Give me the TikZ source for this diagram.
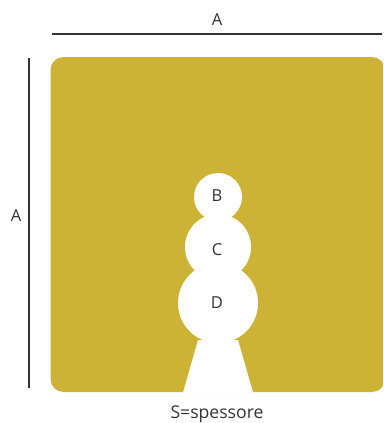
\documentclass[tikz,border=0pt]{standalone}
\usepackage{fontspec}
\setmainfont{Open Sans}
\definecolor{mustard}{HTML}{CDB335}
\definecolor{ink}{HTML}{333333}
\tikzset{
  dimline/.style={draw=ink,line width=1.6pt},
  lbl/.style={text=ink,font=\fontsize{16.5}{18}\selectfont,inner sep=0pt},
  caplbl/.style={text=ink,font=\fontsize{17.6}{19}\selectfont,inner sep=0pt},
  hole/.style={fill=white,draw=none}
}
\begin{document}
\begin{tikzpicture}[x=1pt,y=-1pt]
\useasboundingbox (0,0) rectangle (383,423);
\fill[mustard,rounded corners=13pt] (50.5,57) rectangle (385,392);
\fill[white] (383,40) rectangle (390,400);
\fill[hole] (218,197) circle (24);
\fill[hole] (218,247) circle (33);
\fill[hole] (218,303) circle (40);
\fill[hole] (198,340) -- (238,340) -- (253,392.5) -- (183,392.5) -- cycle;
\coordinate (tl) at (52,34);
\coordinate (tr) at (382,34);
\coordinate (lt) at (29,58);
\coordinate (lb) at (29,388);
\draw[dimline] (tl) -- (tr);
\draw[dimline] (lt) -- (lb);
\node[lbl] (topA) at (217,20) {A};
\node[lbl] (leftA) at (16,216) {A};
\node[lbl] (nb) at (217,195.5) {B};
\node[lbl] (nc) at (217,249.5) {C};
\node[lbl] (nd) at (217,303) {D};
\node[caplbl] (cap) at (217,414.5) {S=spessore};
\end{tikzpicture}
\end{document}
